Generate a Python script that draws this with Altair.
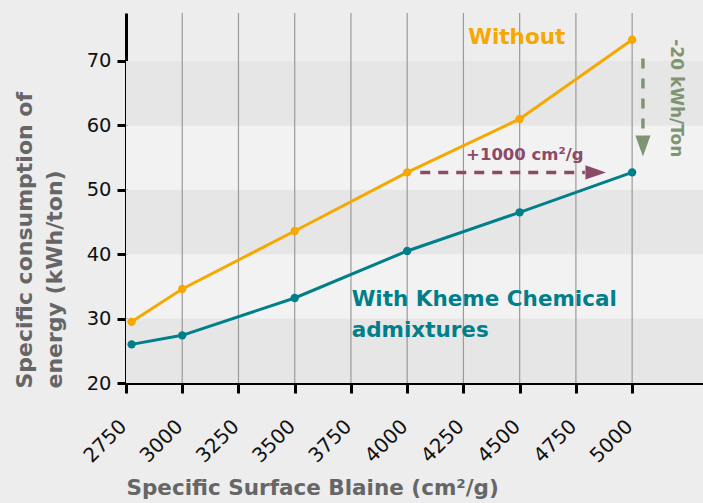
import altair as alt
import pandas as pd

# ---- data ----
blaine = [2775, 3000, 3500, 4000, 4500, 5000]
without = [29.5, 34.6, 43.6, 52.7, 61.0, 73.3]
with_kheme = [26.0, 27.4, 33.2, 40.5, 46.5, 52.7]

x_ticks = [2750, 3000, 3250, 3500, 3750, 4000, 4250, 4500, 4750, 5000]
y_ticks = [20, 30, 40, 50, 60, 70]

band_lo = [20, 30, 40, 50, 60]
band_hi = [30, 40, 50, 60, 70]
band_shade = ["dark", "light", "dark", "light", "dark"]

X_DOMAIN = [2750, 5315]
Y_DOMAIN = [20, 77.45]

ORANGE = "#f5a800"
TEAL = "#007f8a"
PURPLE = "#8b4a66"
GREEN = "#7f9473"
GREY = "#666666"
FONT = "DejaVu Sans"

xs = alt.Scale(domain=X_DOMAIN, nice=False, zero=False)
ys = alt.Scale(domain=Y_DOMAIN, nice=False, zero=False)

xa = alt.Axis(values=x_ticks, format="d", title="Specific Surface Blaine (cm²/g)", grid=False,
              domainColor="black", domainWidth=3, tickColor="black", tickWidth=3, tickSize=10,
              labelAngle=315, labelAlign="right", labelBaseline="middle", labelPadding=30,
              labelOffset=-3,
              labelFont=FONT, labelFontSize=20, labelColor="#111111",
              titleFont=FONT, titleFontSize=21.5, titleFontWeight="bold", titleColor=GREY,
              titleAnchor="start", titleAlign="left", titleX=0, titleY=105,
              titleBaseline="middle")
ya = alt.Axis(values=y_ticks, title=["Specific consumption of", "energy (kWh/ton)"], grid=False,
              domainColor="black", domainWidth=3, tickColor="black", tickWidth=3, tickSize=9,
              labelPadding=6, labelFont=FONT, labelFontSize=19.5, labelColor="#111111",
              titleFont=FONT, titleFontSize=22, titleFontWeight="bold", titleColor=GREY,
              titleAngle=270, titleAlign="left", titleBaseline="top", titleLineHeight=30,
              titleX=-112, titleY=375)

series = pd.DataFrame({
    "blaine": blaine * 2,
    "value": without + with_kheme,
    "series": ["Without"] * len(blaine) + ["With"] * len(blaine),
})
bands = pd.DataFrame({"lo": band_lo, "hi": band_hi, "shade": band_shade,
                      "x0": [X_DOMAIN[0]] * 5, "x1": [X_DOMAIN[1]] * 5})
grid = pd.DataFrame({"x": x_ticks[1:]})

color = alt.Color("series:N", scale=alt.Scale(domain=["Without", "With"], range=[ORANGE, TEAL]), legend=None)

band_layer = alt.Chart(bands).mark_rect().encode(
    x=alt.X("x0:Q", scale=xs, axis=xa),
    x2="x1:Q",
    y=alt.Y("lo:Q", scale=ys, axis=ya),
    y2="hi:Q",
    color=alt.Color("shade:N", scale=alt.Scale(domain=["dark", "light"], range=["#e6e6e6", "#f2f2f2"]), legend=None),
)

grid_layer = alt.Chart(grid).mark_rule(color="#9a9a9a", strokeWidth=1.2).encode(
    x=alt.X("x:Q", scale=xs, axis=xa)
)

line_layer = alt.Chart(series).mark_line(strokeWidth=3).encode(
    x=alt.X("blaine:Q", scale=xs, axis=xa),
    y=alt.Y("value:Q", scale=ys, axis=ya),
    color=color,
    detail="series:N",
)
point_layer = alt.Chart(series).mark_circle(size=70, opacity=1).encode(
    x=alt.X("blaine:Q", scale=xs, axis=xa), y=alt.Y("value:Q", scale=ys, axis=ya), color=color
)

# annotation texts
ann_text = ["Without", "+1000 cm²/g"]
ann_x = [4487, 4523]
ann_y = [73.5, 55.4]
ann_color = [ORANGE, PURPLE]
ann_size = [21.5, 16.5]
texts = []
for t, x, y, c, s in zip(ann_text, ann_x, ann_y, ann_color, ann_size):
    texts.append(alt.Chart().mark_text(text=t, color=c, font=FONT, fontSize=s, fontWeight="bold",
                                       align="center", baseline="middle")
                 .encode(x=alt.datum(x, scale=xs), y=alt.datum(y, scale=ys)))

with_lines = ["With Kheme Chemical", "admixtures"]
with_x = [3753, 3753]
with_y = [32.9, 28.1]
for t, x, y in zip(with_lines, with_x, with_y):
    texts.append(alt.Chart().mark_text(text=t, color=TEAL, font=FONT, fontSize=21.5, fontWeight="bold",
                                       align="left", baseline="middle")
                 .encode(x=alt.datum(x, scale=xs), y=alt.datum(y, scale=ys)))

texts.append(alt.Chart().mark_text(text="-20 kWh/Ton", color=GREEN, font=FONT, fontSize=17, fontWeight="bold",
                                   align="center", baseline="middle", angle=90)
             .encode(x=alt.datum(5197, scale=xs), y=alt.datum(64.2, scale=ys)))

# arrows
purple_x = [4058, 4790]
purple_y = [52.7, 52.7]
purple_head = (4838, 52.7)
green_x = [5048, 5048]
green_y = [70.4, 59.3]
green_head = (5048, 56.8)

purple_line = alt.Chart(pd.DataFrame({"x": purple_x, "y": purple_y})).mark_line(
    color=PURPLE, strokeWidth=3.5, strokeDash=[10, 8]).encode(
    x=alt.X("x:Q", scale=xs, axis=xa), y=alt.Y("y:Q", scale=ys, axis=ya))
purple_arrow = alt.Chart().mark_point(shape="M-1,-0.7L1,0L-1,0.7Z", filled=True, size=420,
                                      color=PURPLE, opacity=1).encode(
    x=alt.datum(purple_head[0], scale=xs), y=alt.datum(purple_head[1], scale=ys))
green_line = alt.Chart(pd.DataFrame({"x": green_x, "y": green_y})).mark_line(
    color=GREEN, strokeWidth=3.5, strokeDash=[10, 10]).encode(
    x=alt.X("x:Q", scale=xs, axis=xa), y=alt.Y("y:Q", scale=ys, axis=ya))
green_arrow = alt.Chart().mark_point(shape="M-0.72,-1L0.72,-1L0,1Z", filled=True, size=441,
                                     color=GREEN, opacity=1).encode(
    x=alt.datum(green_head[0], scale=xs), y=alt.datum(green_head[1], scale=ys))

chart = alt.layer(
    band_layer, grid_layer, line_layer, point_layer,
    purple_line, purple_arrow, green_line, green_arrow, *texts
).resolve_scale(color="independent").properties(
    width=577, height=370,
    background="#ededed",
    padding={"left": 126, "top": 13, "right": 0, "bottom": 120},
    autosize=alt.AutoSizeParams(type="none"),
).configure_view(stroke=None)

chart.save("out.html", embed_options={"renderer": "svg", "actions": False})
